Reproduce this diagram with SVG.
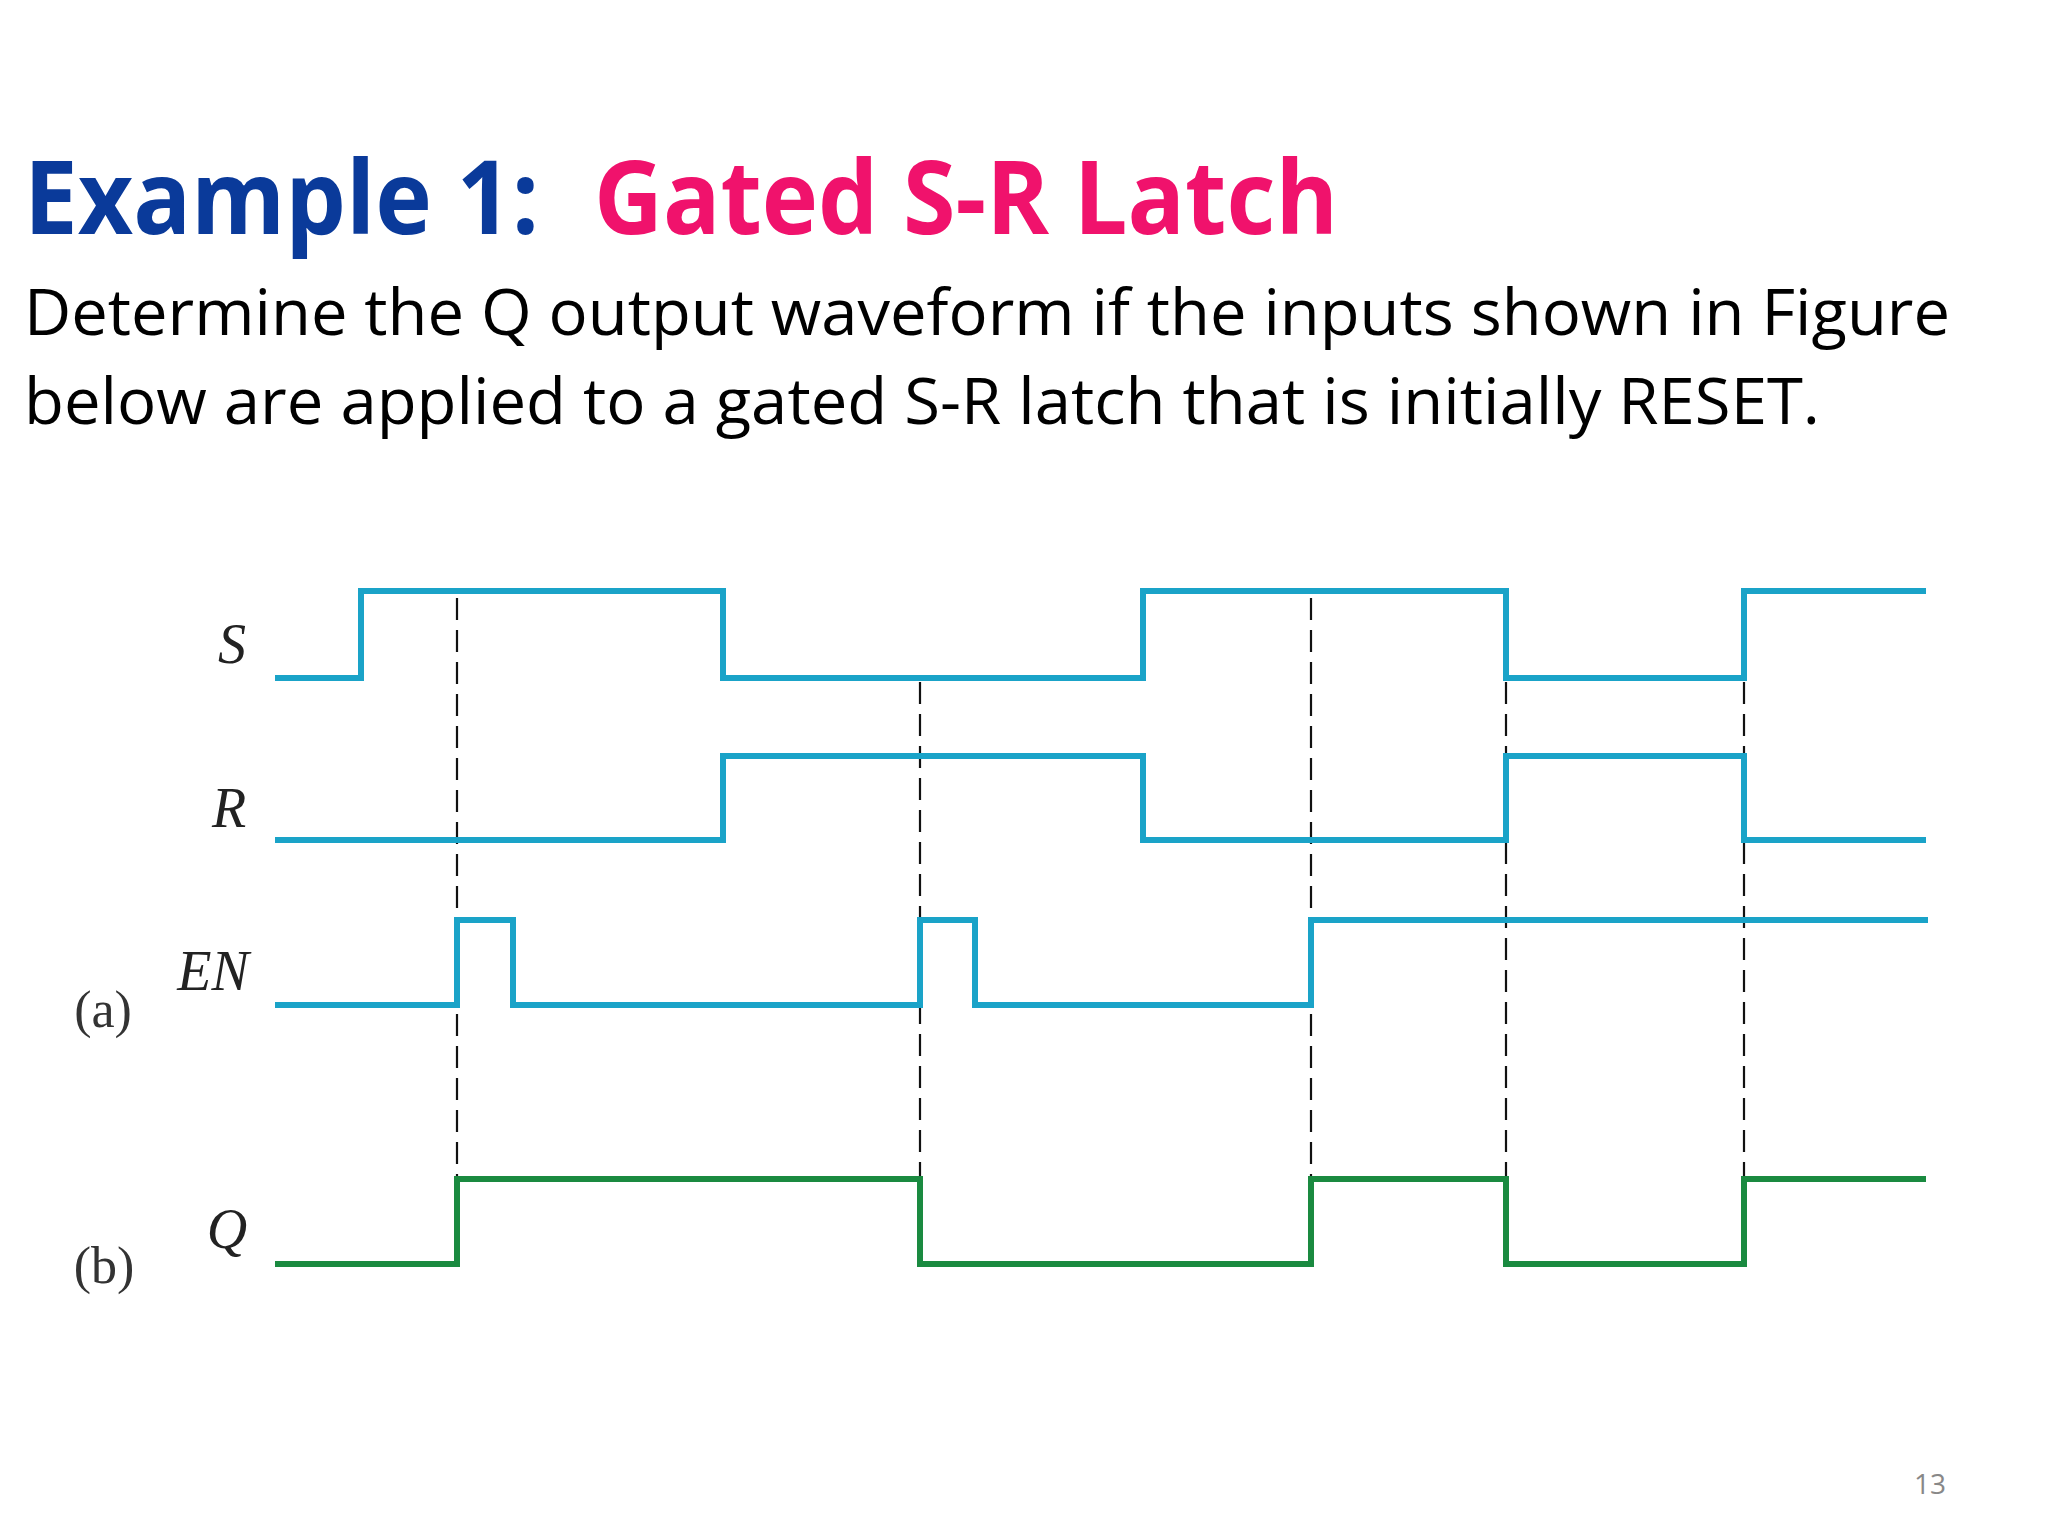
<svg xmlns="http://www.w3.org/2000/svg" width="2048" height="1536" viewBox="0 0 2048 1536">
<style>
.w{fill:none;stroke:#1aa3c8;stroke-width:6}
.q{fill:none;stroke:#1a8a40;stroke-width:6}
.d{stroke:#111;stroke-width:2.2;stroke-dasharray:22,10}
.lb{font-family:"Liberation Serif",serif;font-style:italic;font-size:56px;fill:#222}
.pl{font-family:"Liberation Serif",serif;font-size:52px;fill:#333}
.body{font-family:"Open Sans","Noto Sans",sans-serif;font-size:64px;fill:#000}
</style>
<rect width="2048" height="1536" fill="#fff"/>
<text x="24" y="234" font-family="'Open Sans',sans-serif" font-weight="bold" font-size="102" fill="#0a3a9a" textLength="515" lengthAdjust="spacingAndGlyphs">Example 1:</text>
<text x="594" y="234" font-family="'Open Sans',sans-serif" font-weight="bold" font-size="102" fill="#f0126c" textLength="744" lengthAdjust="spacingAndGlyphs">Gated S-R Latch</text>
<text class="body" x="24" y="335" textLength="1926" lengthAdjust="spacingAndGlyphs">Determine the Q output waveform if the inputs shown in Figure</text>
<text class="body" x="24" y="424" textLength="1796" lengthAdjust="spacingAndGlyphs">below are applied to a gated S-R latch that is initially RESET.</text>
<g id="connectors">
<line class="d" x1="457" y1="598" x2="457" y2="1176"/>
<line class="d" x1="920" y1="682" x2="920" y2="1176"/>
<line class="d" x1="1311" y1="598" x2="1311" y2="1176"/>
<line class="d" x1="1506" y1="682" x2="1506" y2="1176"/>
<line class="d" x1="1744" y1="682" x2="1744" y2="1176"/>
</g>
<g id="S"><text class="lb" x="232" y="663" text-anchor="middle">S</text>
<polyline class="w" points="275,678 361,678 361,591 723,591 723,678 1143,678 1143,591 1506,591 1506,678 1744,678 1744,591 1926,591"/></g>
<g id="R"><text class="lb" x="229" y="827" text-anchor="middle">R</text>
<polyline class="w" points="275,840 723,840 723,756 1143,756 1143,840 1506,840 1506,756 1744,756 1744,840 1926,840"/></g>
<g id="EN"><text class="lb" x="213" y="990" text-anchor="middle">EN</text>
<text class="pl" x="103" y="1027" text-anchor="middle">(a)</text>
<polyline class="w" points="275,1005 457,1005 457,920 513,920 513,1005 920,1005 920,920 975,920 975,1005 1311,1005 1311,920 1928,920"/></g>
<g id="Q"><text class="lb" x="227" y="1248" text-anchor="middle">Q</text>
<text class="pl" x="104" y="1283" text-anchor="middle">(b)</text>
<polyline class="q" points="275,1264 457,1264 457,1179 920,1179 920,1264 1311,1264 1311,1179 1506,1179 1506,1264 1744,1264 1744,1179 1926,1179"/></g>
<text x="1930" y="1494" text-anchor="middle" font-family="'Open Sans',sans-serif" font-size="28" fill="#888">13</text>
</svg>
